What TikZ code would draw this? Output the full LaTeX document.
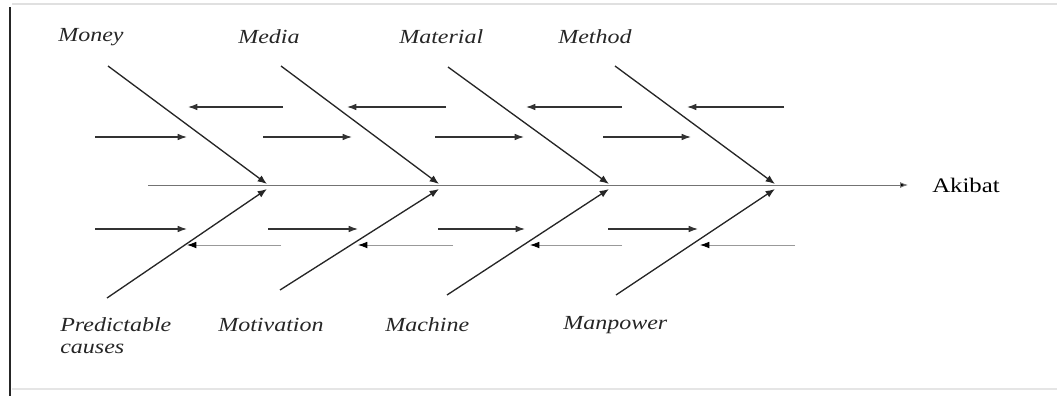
\documentclass[tikz,border=0pt]{standalone}
\usepackage{fontspec}
\setmainfont{Liberation Serif}[FakeStretch=1.2]
\usetikzlibrary{arrows.meta}
\begin{document}
\begin{tikzpicture}[x=0.75pt,y=-0.75pt,
  bone/.style={draw=black!85,line width=1pt,-{Latex[length=7pt,width=5.5pt]}},
  spine/.style={draw=black!55,line width=0.7pt,-{Latex[length=6pt,width=4.5pt,fill=black]}},
  cause/.style={draw=black!80,line width=0.9pt,-{Latex[length=7pt,width=5pt]}},
  causelight/.style={draw=black!40,line width=0.6pt,-{Latex[length=7pt,width=5pt,fill=black,color=black]}},
  lbl/.style={font=\fontsize{15pt}{17pt}\selectfont\itshape,inner sep=0pt,anchor=west,text=black!85},
  eff/.style={font=\fontsize{15.5pt}{17pt}\selectfont,inner sep=0pt,anchor=west}]
\useasboundingbox (0,0) rectangle (1060,396);
% frame
\coordinate (f1) at (10,7); \coordinate (f2) at (10,396);
\coordinate (f3) at (12,4); \coordinate (f4) at (1057,4);
\coordinate (f5) at (12,389); \coordinate (f6) at (1057,389);
\draw[black!85,line width=1.3pt] (f1) -- (f2);
\draw[black!12,line width=0.8pt] (f3) -- (f4);
\draw[black!10,line width=0.8pt] (f5) -- (f6);
% spine
\coordinate (s0) at (148,185);
\coordinate (s1) at (908,185);
\draw[spine] (s0) -- (s1);
\node[eff] (akibat) at (932,185) {Akibat};
% junctions
\coordinate (j1) at (267,184); \coordinate (j2) at (439,184);
\coordinate (j3) at (609,184); \coordinate (j4) at (775,184);
\coordinate (k1) at (267,189); \coordinate (k2) at (439,189);
\coordinate (k3) at (609,189); \coordinate (k4) at (775,189);
% upper bones
\coordinate (u1) at (108,66); \coordinate (u2) at (281,66);
\coordinate (u3) at (448,67); \coordinate (u4) at (615,66);
\draw[bone] (u1) -- (j1); \draw[bone] (u2) -- (j2);
\draw[bone] (u3) -- (j3); \draw[bone] (u4) -- (j4);
% lower bones
\coordinate (l1) at (107,298); \coordinate (l2) at (280,290);
\coordinate (l3) at (447,295); \coordinate (l4) at (616,295);
\draw[bone] (l1) -- (k1); \draw[bone] (l2) -- (k2);
\draw[bone] (l3) -- (k3); \draw[bone] (l4) -- (k4);
% row 1 (left-pointing)
\coordinate (a1t) at (283,107); \coordinate (a1h) at (188,107);
\coordinate (a2t) at (446,107); \coordinate (a2h) at (347,107);
\coordinate (a3t) at (622,107); \coordinate (a3h) at (526,107);
\coordinate (a4t) at (784,107); \coordinate (a4h) at (687,107);
\draw[cause] (a1t) -- (a1h); \draw[cause] (a2t) -- (a2h);
\draw[cause] (a3t) -- (a3h); \draw[cause] (a4t) -- (a4h);
% row 2 (right-pointing)
\coordinate (b1t) at (95,137); \coordinate (b1h) at (187,137);
\coordinate (b2t) at (263,137); \coordinate (b2h) at (352,137);
\coordinate (b3t) at (435,137); \coordinate (b3h) at (524,137);
\coordinate (b4t) at (603,137); \coordinate (b4h) at (691,137);
\draw[cause] (b1t) -- (b1h); \draw[cause] (b2t) -- (b2h);
\draw[cause] (b3t) -- (b3h); \draw[cause] (b4t) -- (b4h);
% row 3 (right-pointing)
\coordinate (c1t) at (95,229); \coordinate (c1h) at (187,229);
\coordinate (c2t) at (268,229); \coordinate (c2h) at (358,229);
\coordinate (c3t) at (438,229); \coordinate (c3h) at (525,229);
\coordinate (c4t) at (608,229); \coordinate (c4h) at (698,229);
\draw[cause] (c1t) -- (c1h); \draw[cause] (c2t) -- (c2h);
\draw[cause] (c3t) -- (c3h); \draw[cause] (c4t) -- (c4h);
% row 4 (left-pointing, light)
\coordinate (d1t) at (281,245); \coordinate (d1h) at (187,245);
\coordinate (d2t) at (453,245); \coordinate (d2h) at (358,245);
\coordinate (d3t) at (622,245); \coordinate (d3h) at (530,245);
\coordinate (d4t) at (795,245); \coordinate (d4h) at (700,245);
\draw[causelight] (d1t) -- (d1h); \draw[causelight] (d2t) -- (d2h);
\draw[causelight] (d3t) -- (d3h); \draw[causelight] (d4t) -- (d4h);
% labels
\node[lbl] (money) at (58,37) {Money};
\node[lbl] (media) at (238,37) {Media};
\node[lbl] (material) at (399,37) {Material};
\node[lbl] (method) at (558,37) {Method};
\node[lbl] (pred) at (60,325) {Predictable};
\node[lbl] (causes) at (60,349) {causes};
\node[lbl] (motiv) at (218,325) {Motivation};
\node[lbl] (machine) at (385,325) {Machine};
\node[lbl] (manpower) at (563,325) {Manpower};
\end{tikzpicture}
\end{document}
